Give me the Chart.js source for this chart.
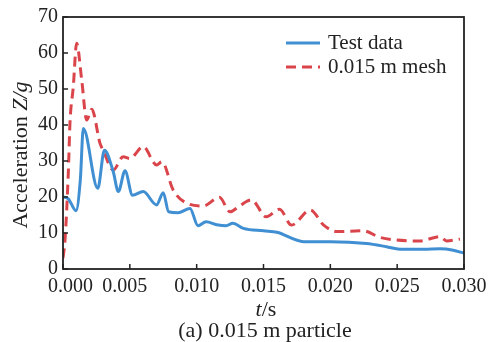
<!DOCTYPE html>
<html>
<head>
<meta charset="utf-8">
<script src="https://cdn.jsdelivr.net/npm/chart.js@4"></script>
<style>
  html, body { margin: 0; padding: 0; background: #fff; }
  #wrap { width: 488px; height: 342px; }
</style>
</head>
<body>
<div id="wrap"><canvas id="accelChart" width="488" height="342"></canvas></div>
<script>
// Tick labels
const xTicks = [0, 0.005, 0.010, 0.015, 0.020, 0.025, 0.030];
const xTickLabels = ['   0.000', '0.005  ', '0.010', '0.015', '0.020', '0.025', '0.030'];
const yTicks = [0, 10, 20, 30, 40, 50, 60, 70];

// Test data (blue)
const testTime = [0, 0.0004, 0.00097, 0.0013, 0.00152, 0.0026, 0.0031, 0.00376, 0.00414, 0.00464, 0.0052,
  0.006, 0.0070, 0.0075, 0.0079, 0.0086, 0.0095, 0.0101, 0.0107, 0.0115, 0.0122, 0.0127, 0.0135,
  0.0150, 0.0160, 0.0180, 0.0200, 0.0227, 0.0242, 0.0252, 0.0270, 0.0282, 0.0292, 0.0300];
const testAccel = [20, 19.5, 16.2, 25, 39, 22.4, 33, 27, 21.5, 27.3, 20.5,
  21.5, 17.8, 21.2, 15.9, 15.6, 16.8, 12, 13.1, 12.3, 12, 12.7, 11.3,
  10.6, 10.2, 7.6, 7.6, 7.1, 6.2, 5.5, 5.5, 5.6, 5.2, 4.4];

// 0.015 m mesh (red dashed)
const meshTime = [0, 0.00015, 0.0004, 0.00052, 0.00077, 0.00102, 0.0014, 0.00177, 0.00215, 0.00277, 0.003,
  0.00376, 0.0045, 0.005, 0.006, 0.007, 0.0074, 0.00825, 0.0093, 0.0105, 0.0117, 0.0125, 0.0132,
  0.0141, 0.0152, 0.0162, 0.0171, 0.0185, 0.0195, 0.0205, 0.0225, 0.0237, 0.0267, 0.0282, 0.0287, 0.0297];
const meshAccel = [3, 8, 27, 40.5, 50.6, 62.7, 52.5, 41.4, 44.4, 34.9, 33,
  27.5, 31.2, 30.7, 34, 28.9, 29.8, 21.9, 18.2, 17.5, 19.9, 15.9, 17.5,
  19.2, 14.5, 16.6, 12.2, 16.4, 12.2, 10.4, 10.6, 8.8, 7.8, 9.0, 7.8, 8.3];

const SERIF = "'Liberation Serif', 'DejaVu Serif', serif";
const INK = '#222';

const toPoints = (xs, ys) => xs.map((x, i) => ({ x: x, y: ys[i] }));

// frame, inward ticks, titles, legend, caption
const decorPlugin = {
  id: 'decor',
  afterDraw(chart) {
    const ctx = chart.ctx;
    const a = chart.chartArea;
    const xs = chart.scales.x, ys = chart.scales.y;
    ctx.save();
    ctx.strokeStyle = INK;
    ctx.lineWidth = 1.8;
    ctx.strokeRect(a.left, a.top, a.right - a.left, a.bottom - a.top);

    ctx.lineWidth = 1.5;
    xTicks.forEach(v => {
      const px = xs.getPixelForValue(v);
      ctx.beginPath(); ctx.moveTo(px, a.bottom); ctx.lineTo(px, a.bottom - 5); ctx.stroke();
    });
    yTicks.forEach(v => {
      const py = ys.getPixelForValue(v);
      ctx.beginPath(); ctx.moveTo(a.left, py); ctx.lineTo(a.left + 5, py); ctx.stroke();
    });

    ctx.fillStyle = INK;
    ctx.textBaseline = 'alphabetic';

    // y title: "Acceleration " + italic "Z/g"
    const reg = '22px ' + SERIF, ita = 'italic 22px ' + SERIF;
    ctx.font = reg; const w1 = ctx.measureText('Acceleration ').width;
    ctx.font = ita; const w2 = ctx.measureText('Z/g').width;
    ctx.save();
    ctx.translate(27, 155);
    ctx.rotate(-Math.PI / 2);
    const sx = -(w1 + w2) / 2;
    ctx.textAlign = 'left';
    ctx.font = reg; ctx.fillText('Acceleration ', sx, 0);
    ctx.font = ita; ctx.fillText('Z/g', sx + w1, 0);
    ctx.restore();

    // x title: italic "t" + "/s"
    ctx.textAlign = 'left';
    ctx.font = ita; const wt = ctx.measureText('t').width;
    ctx.font = reg; const ws = ctx.measureText('/s').width;
    const cx = 266 - (wt + ws) / 2;
    ctx.font = ita; ctx.fillText('t', cx, 316);
    ctx.font = reg; ctx.fillText('/s', cx + wt, 316);

    // caption
    ctx.textAlign = 'center';
    ctx.font = reg;
    ctx.fillText('(a) 0.015 m particle', 265, 337);

    // legend
    ctx.textAlign = 'left';
    ctx.textBaseline = 'middle';
    chart.data.datasets.forEach((ds, i) => {
      const y = 43 + i * 24;
      ctx.strokeStyle = ds.borderColor;
      ctx.lineWidth = 3;
      ctx.setLineDash(ds.borderDash || []);
      ctx.beginPath(); ctx.moveTo(286, y); ctx.lineTo(320, y); ctx.stroke();
      ctx.setLineDash([]);
      ctx.fillStyle = INK;
      ctx.font = '21px ' + SERIF;
      ctx.fillText(ds.label, 328, y);
    });
    ctx.restore();
  }
};

new Chart(document.getElementById('accelChart'), {
  type: 'line',
  data: {
    datasets: [
      {
        label: 'Test data',
        data: toPoints(testTime, testAccel),
        borderColor: '#3f8fd2',
        borderWidth: 3,
        pointRadius: 0,
        cubicInterpolationMode: 'monotone',
        fill: false
      },
      {
        label: '0.015 m mesh',
        data: toPoints(meshTime, meshAccel),
        borderColor: '#d9454a',
        borderWidth: 3,
        borderDash: [10, 6],
        pointRadius: 0,
        cubicInterpolationMode: 'monotone',
        fill: false
      }
    ]
  },
  options: {
    responsive: false,
    animation: false,
    layout: { padding: { top: 17, right: 24, left: 0, bottom: 0 } },
    plugins: {
      legend: { display: false },
      tooltip: { enabled: false },
      title: { display: false }
    },
    scales: {
      x: {
        type: 'linear',
        min: 0,
        max: 0.03,
        afterBuildTicks: s => { s.ticks = xTicks.map(v => ({ value: v })); },
        afterFit: s => { s.height = 73; s.paddingLeft = 0; s.paddingRight = 0; },
        grid: { display: false, drawTicks: false },
        border: { display: false },
        ticks: {
          padding: 6,
          color: INK,
          font: { family: SERIF, size: 20 },
          maxRotation: 0,
          autoSkip: false,
          callback: (v, i) => xTickLabels[i]
        }
      },
      y: {
        min: 0,
        max: 70,
        afterBuildTicks: s => { s.ticks = yTicks.map(v => ({ value: v })); },
        afterFit: s => { s.width = 63; s.paddingTop = 0; s.paddingBottom = 0; },
        grid: { display: false, drawTicks: false },
        border: { display: false },
        ticks: {
          padding: 5,
          color: INK,
          font: { family: SERIF, size: 20 }
        }
      }
    }
  },
  plugins: [decorPlugin]
});
</script>
</body>
</html>
